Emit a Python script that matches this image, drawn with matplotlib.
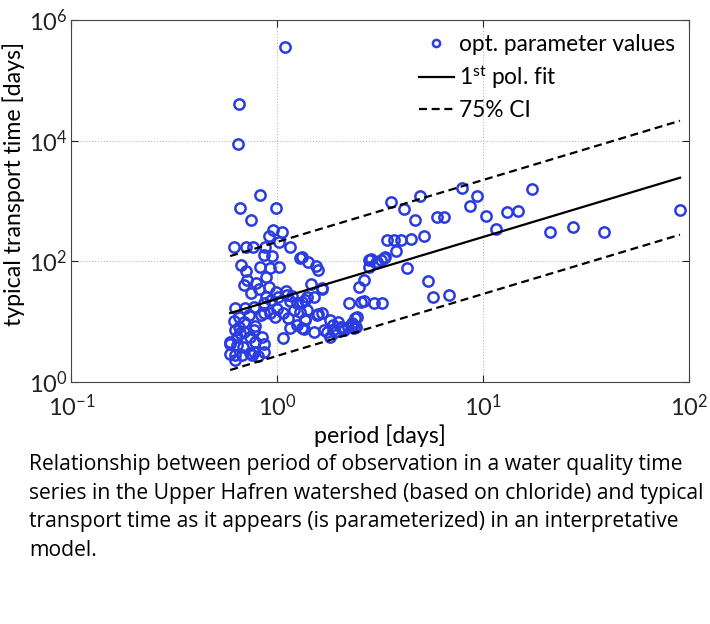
import numpy as np
import matplotlib
matplotlib.use("Agg")
import matplotlib.pyplot as plt

# values (period in days, transport time in days)
period = [1.09, 0.65, 0.645, 0.82, 0.66, 0.99, 0.746, 0.957, 1.055, 0.914,
          1.02, 0.618, 0.705, 0.764, 0.875, 1.157, 0.86, 0.94, 1.285, 1.41,
          1.535, 1.585, 0.668, 0.82, 0.92, 1.02, 0.705, 0.885, 0.715, 0.69,
          0.746, 0.815, 0.914, 0.98, 1.106, 1.46, 1.65, 0.885, 1.01, 0.62,
          0.70, 0.77, 0.857, 0.935, 1.0, 1.157, 1.2, 1.24, 1.32, 1.37,
          1.39, 1.51, 1.39, 0.79, 0.725, 0.83, 0.925, 0.978, 1.07, 1.127,
          1.29, 1.36, 1.57, 1.65, 0.615, 0.685, 0.65, 0.65, 0.78, 0.69,
          0.635, 0.74, 0.84, 0.625, 0.66, 0.77, 0.59, 0.68, 0.78, 0.86,
          0.59, 0.635, 0.59, 0.67, 0.74, 0.81, 0.625, 0.75, 0.86, 0.625,
          1.07, 1.157, 1.24, 1.35, 1.5, 1.75, 1.87, 2.03, 2.2, 2.4,
          2.44, 2.22, 2.54, 2.65, 2.5, 2.63, 2.78, 3.55, 4.91, 4.12,
          4.69, 7.9, 9.38, 8.6, 5.98, 6.44, 10.3, 11.5, 13.0, 14.8,
          17.3, 21.1, 27.2, 38.7, 90.4, 3.42, 3.68, 3.97, 4.48, 5.15,
          3.79, 2.86, 3.06, 3.29, 3.2, 2.78, 4.27, 5.38, 5.72, 6.82,
          2.94, 3.22, 2.38, 2.3, 2.35, 2.07, 1.32, 1.64, 1.37, 1.32,
          1.81, 1.87, 1.98, 2.1, 1.91, 1.68, 1.8, 2.3, 3.03, 3.34,
          0.77, 0.86, 1.55, 1.12, 1.18]
transport_time = [3.5e5, 4.0e4, 8.7e3, 1250, 750, 750, 480, 328, 300, 261,
                  210, 173, 173, 173, 173, 173, 126, 121, 111, 97,
                  83, 71, 85, 81, 76, 81, 68, 54, 48, 40,
                  30, 34, 37, 31, 32, 42, 35, 25, 25.6, 16.5,
                  17, 17.5, 20, 22.6, 15.8, 22, 15.5, 20, 21, 22.6,
                  15.5, 25.6, 25.7, 43, 12.8, 12.8, 13.7, 11.7, 13.6, 11.2,
                  14.5, 10.8, 13.1, 13.6, 10.3, 9.9, 12, 8.2, 8.4, 6.7,
                  5.6, 5.6, 5.6, 7.2, 6.4, 7.2, 4.2, 3.8, 4.6, 4.2,
                  4.6, 4.1, 2.9, 2.8, 3.0, 2.7, 2.8, 2.8, 3.1, 2.3,
                  5.4, 7.9, 8.7, 7.4, 6.7, 6.7, 7.2, 8.2, 8.2, 8.2,
                  12, 20, 21, 22, 37, 49, 104, 966, 1215, 723,
                  481, 1610, 1200, 820, 545, 540, 560, 340, 645, 685,
                  1570, 307, 372, 307, 704, 224, 220, 224, 230, 261,
                  147, 107, 98, 111, 104, 79, 76, 47, 25.7, 27.4,
                  20.4, 20.4, 11.3, 9.3, 7.7, 7.7, 118, 36, 10.5, 7.7,
                  10.5, 8.7, 9.9, 7.2, 6.7, 7.2, 5.6, 8.4, 92, 116,
                  3.1, 13.6, 12.8, 27, 26]

# first order fit in log-log space and the 75% band (decades)
fit_slope = 1.027
fit_intercept = 1.374
ci_halfwidth = 0.945

caption = ["Relationship between period of observation in a water quality time",
           "series in the Upper Hafren watershed (based on chloride) and typical",
           "transport time as it appears (is parameterized) in an interpretative",
           "model."]

plt.rcParams['font.family'] = 'Lato'
plt.rcParams['mathtext.fontset'] = 'custom'
plt.rcParams['mathtext.rm'] = 'Lato'
plt.rcParams['mathtext.it'] = 'Lato'

fig = plt.figure(figsize=(7.1, 6.24), dpi=100)
ax = fig.add_axes([0.1007, 0.3883, 0.8697, 0.5797])

blue = '#2b3ce0'
ax.plot(period, transport_time, 'o', mfc='none', mec=blue, mew=1.8, ms=7.4,
        label='opt. parameter values', zorder=3)

xf = np.array([min(period), max(period)])
lf = fit_intercept + fit_slope * np.log10(xf)
ax.plot(xf, 10 ** lf, '-', color='black', lw=1.6, label=r'1$^{\rm st}$ pol. fit', zorder=4)
ax.plot(xf, 10 ** (lf + ci_halfwidth), '--', color='black', lw=1.6,
        dashes=(3.6, 2.1), label='75% CI', zorder=4)
ax.plot(xf, 10 ** (lf - ci_halfwidth), '--', color='black', lw=1.6,
        dashes=(3.6, 2.1), zorder=4)

ax.set_xscale('log')
ax.set_yscale('log')
ax.set_xlim(0.1, 100)
ax.set_ylim(1, 1e6)
ax.set_xticks([0.1, 1, 10, 100])
ax.set_yticks([1, 1e2, 1e4, 1e6])
ax.minorticks_off()
ax.set_xticklabels([r'$10^{-1}$', r'$10^{0}$', r'$10^{1}$', r'$10^{2}$'])
ax.set_yticklabels([r'$10^{0}$', r'$10^{2}$', r'$10^{4}$', r'$10^{6}$'])
ax.tick_params(direction='in', length=5, width=0.8, labelsize=17,
               top=True, right=True, colors='#222222')
ax.tick_params(axis='x', pad=8.5)
ax.tick_params(axis='y', pad=3)
for s in ax.spines.values():
    s.set_color('#444444')
    s.set_linewidth(0.8)
ax.grid(True, linestyle=':', color='#bbbbbb', linewidth=0.8)

ax.set_xlabel('period [days]', fontsize=16.7, labelpad=3)
ax.set_ylabel('typical transport time [days]', fontsize=16.7)
ax.yaxis.set_label_coords(-0.075, 0.547)

leg = ax.legend(loc='upper right', frameon=False, fontsize=16.3, handlelength=1.55,
                handletextpad=0.25, labelspacing=0.4, borderaxespad=0.2,
                markerscale=0.7)

y0 = 470
for i, line in enumerate(caption):
    fig.text(29 / 710, 1 - (y0 + i * 28.5) / 624, line, fontsize=15.2,
             family='Open Sans', va='baseline', ha='left', color='black')

fig.savefig('out.png', dpi=100)
